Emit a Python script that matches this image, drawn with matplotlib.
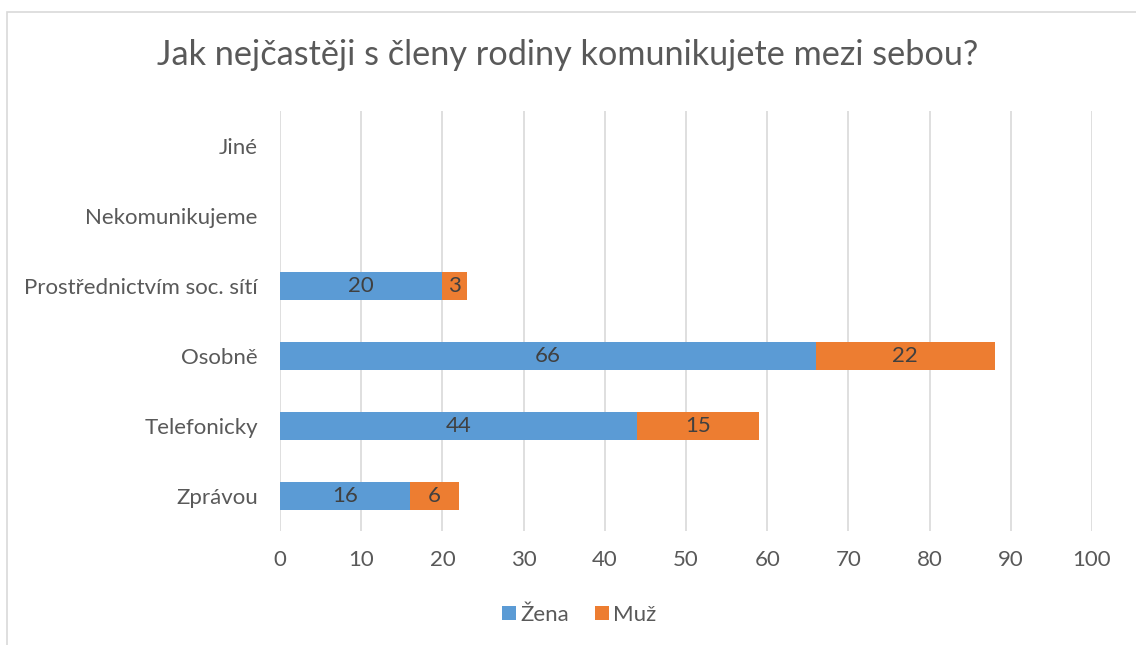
import matplotlib.pyplot as plt
from matplotlib.patches import Rectangle

# data
categories = ['Zprávou', 'Telefonicky', 'Osobně', 'Prostřednictvím soc. sítí',
              'Nekomunikujeme', 'Jiné']
zena = [16, 44, 66, 20, 0, 0]
muz = [6, 15, 22, 3, 0, 0]
series_names = ['Žena', 'Muž']
x_ticks = [0, 10, 20, 30, 40, 50, 60, 70, 80, 90, 100]

blue = '#5B9BD5'
orange = '#ED7D31'
text_col = '#595959'
grid_col = '#D9D9D9'

plt.rcParams['font.family'] = ['Lato', 'DejaVu Sans']

fig = plt.figure(figsize=(11.36, 6.45), dpi=100)
ax = fig.add_axes([280 / 1136, 114 / 645, 812 / 1136, 420 / 645])

# outer chart border (runs off the right and bottom of the image)
fig.patches.append(Rectangle((7 / 1136, -0.1), 1.2, (645 - 12) / 645 + 0.1,
                             transform=fig.transFigure, fill=False,
                             edgecolor=grid_col, linewidth=1.2))

pos = list(range(len(categories)))
b1 = ax.barh(pos, zena, height=0.4, color=blue, label=series_names[0], zorder=3)
b2 = ax.barh(pos, muz, left=zena, height=0.4, color=orange, label=series_names[1], zorder=3)

for bars, vals in ((b1, zena), (b2, muz)):
    for rect, v in zip(bars, vals):
        if v > 0:
            ax.text(rect.get_x() + rect.get_width() / 2, rect.get_y() + rect.get_height() / 2,
                    str(v), ha='center', va='center', fontsize=16, color='#404040', zorder=4)

ax.set_xlim(0, 100)
ax.set_ylim(-0.5, len(categories) - 0.5)
ax.set_xticks(x_ticks)
ax.set_yticks(pos)
ax.set_yticklabels(categories)
ax.tick_params(axis='both', length=0, labelsize=16, labelcolor=text_col)
ax.tick_params(axis='x', pad=14)
ax.tick_params(axis='y', pad=16)
ax.grid(axis='x', color=grid_col, linewidth=1.2, zorder=0)
for s in ax.spines.values():
    s.set_visible(False)

fig.text(0.5, 1 - 55 / 645, 'Jak nejčastěji s členy rodiny komunikujete mezi sebou?',
         ha='center', va='center', fontsize=24.7, color=text_col)

fig.legend(handles=[b1, b2], labels=series_names, loc='center',
           bbox_to_anchor=(0.51, 1 - 615 / 645), ncol=2, frameon=False,
           fontsize=16, labelcolor=text_col, handlelength=0.6, handleheight=0.6,
           handletextpad=0.2, columnspacing=1.2)

fig.savefig('out.png', dpi=100)
